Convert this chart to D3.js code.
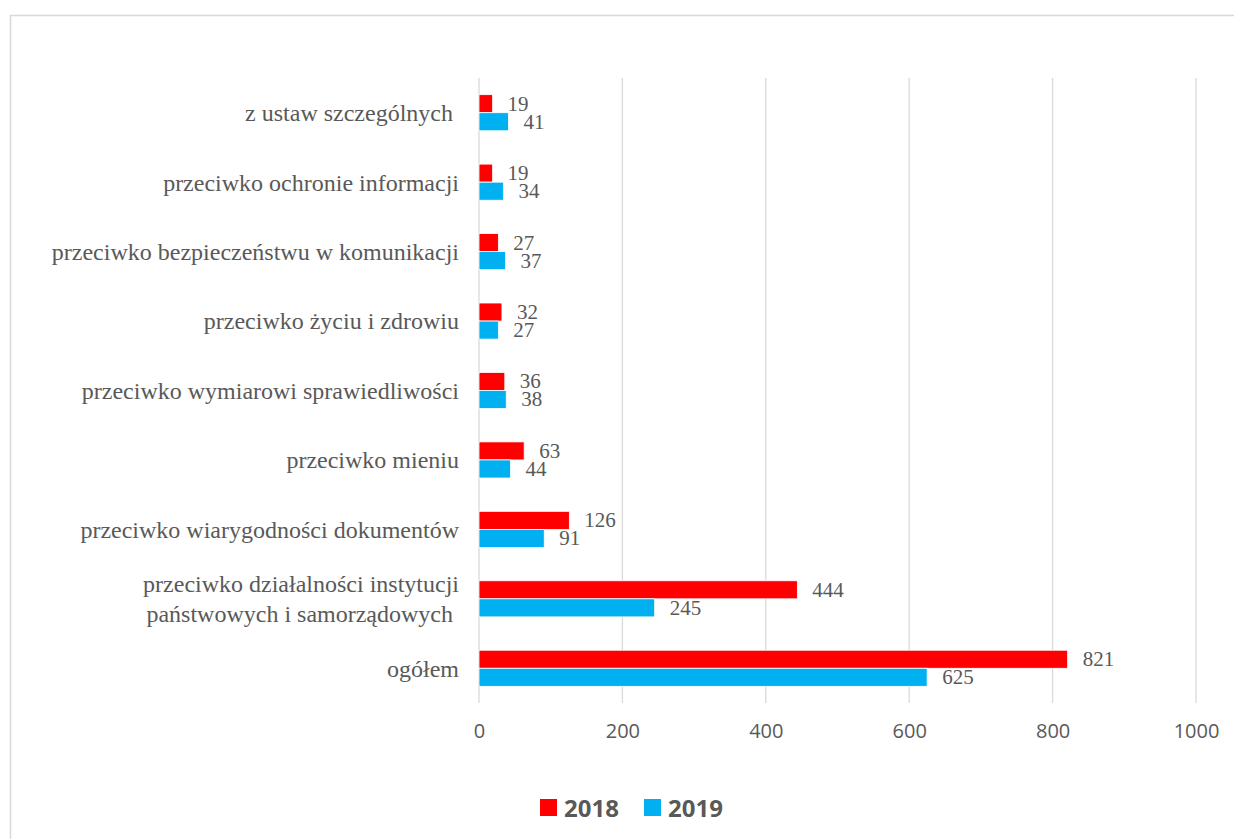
<!DOCTYPE html>
<html lang="pl">
<head>
    <meta charset="UTF-8">
    <title>Przestępstwa 2018 - 2019</title>
    <script src="https://d3js.org/d3.v7.min.js"></script>
    <style>
        body { margin: 0; background: #fff; }
        svg { display: block; }
        .cat text { font-family: "Liberation Serif", "Times New Roman", "DejaVu Serif", serif; font-size: 24px; fill: #595959; white-space: pre; }
        .x-axis text { font-family: "Open Sans", "Liberation Sans", sans-serif; font-size: 20px; fill: #595959; }
        .val { font-family: "Liberation Serif", "Times New Roman", "DejaVu Serif", serif; font-size: 21px; fill: #595959; }
        .legend text { font-family: "Open Sans", "Liberation Sans", sans-serif; font-size: 24px; font-weight: bold; fill: #595959; }
    </style>
</head>
<body>
<svg width="1234" height="839"></svg>
<script>
    // categories, top to bottom
    const categories = [
        'z ustaw szczególnych ',
        'przeciwko ochronie informacji',
        'przeciwko bezpieczeństwu w komunikacji',
        'przeciwko życiu i zdrowiu',
        'przeciwko wymiarowi sprawiedliwości',
        'przeciwko mieniu',
        'przeciwko wiarygodności dokumentów',
        'przeciwko działalności instytucji\npaństwowych i samorządowych ',
        'ogółem'
    ];
    const values2018 = [19, 19, 27, 32, 36, 63, 126, 444, 821];
    const values2019 = [41, 34, 37, 27, 38, 44, 91, 245, 625];
    const seriesNames = ['2018', '2019'];
    const colors = ['#ff0000', '#00b0f0'];
    const xTicks = [0, 200, 400, 600, 800, 1000];

    const svg = d3.select('svg');

    // outer frame
    svg.append('rect')
        .attr('x', 10.5).attr('y', 15.5)
        .attr('width', 1240).attr('height', 840)
        .attr('fill', 'none').attr('stroke', '#d9d9d9').attr('stroke-width', 1.5);

    const x = d3.scaleLinear().domain([0, 1000]).range([479, 1196]);
    const y = d3.scaleBand().domain(categories).range([78, 703]).paddingInner(0.48).paddingOuter(0.24);
    const sub = d3.scaleBand().domain(seriesNames).range([0, y.bandwidth()]);

    // gridlines
    svg.append('g')
        .selectAll('line')
        .data(xTicks)
        .join('line')
        .attr('x1', d => x(d)).attr('x2', d => x(d))
        .attr('y1', 78).attr('y2', 703)
        .attr('stroke', '#d9d9d9').attr('stroke-width', 1.3);

    // x axis labels
    const xAxis = svg.append('g')
        .attr('class', 'x-axis')
        .attr('transform', 'translate(0,703)')
        .call(d3.axisBottom(x).tickValues(xTicks).tickFormat(d3.format('d')).tickSize(0).tickPadding(21));
    xAxis.select('.domain').remove();
    xAxis.attr('font-family', null).attr('font-size', null);

    // category labels
    const cat = svg.append('g').attr('class', 'cat');
    categories.forEach(c => {
        const lines = c.split('\n');
        const cy = y(c) + y.bandwidth() / 2;
        const t = cat.append('text')
            .attr('x', 459)
            .attr('text-anchor', 'end');
        lines.forEach((l, i) => {
            t.append('tspan')
                .attr('x', 459)
                .attr('y', cy + (i - (lines.length - 1) / 2) * 30)
                .attr('dy', '0.35em')
                .text(l);
        });
    });

    // bars
    const series = [values2018, values2019];
    series.forEach((vals, si) => {
        const g = svg.append('g');
        g.selectAll('rect')
            .data(vals)
            .join('rect')
            .attr('x', x(0))
            .attr('y', (d, i) => y(categories[i]) + sub(seriesNames[si]))
            .attr('width', d => x(d) - x(0))
            .attr('height', sub.bandwidth())
            .attr('fill', colors[si])
            .attr('stroke', '#fff').attr('stroke-width', 0.8);
        g.selectAll('text')
            .data(vals)
            .join('text')
            .attr('class', 'val')
            .attr('x', d => x(d) + 15)
            .attr('y', (d, i) => y(categories[i]) + sub(seriesNames[si]) + sub.bandwidth() / 2)
            .attr('dy', '0.33em')
            .text(d => d);
    });

    // legend
    const legend = svg.append('g').attr('class', 'legend');
    const legendX = [540, 644];
    seriesNames.forEach((s, i) => {
        legend.append('rect')
            .attr('x', legendX[i]).attr('y', 799)
            .attr('width', 17).attr('height', 17)
            .attr('fill', colors[i]);
        legend.append('text')
            .attr('x', legendX[i] + 24).attr('y', 808)
            .attr('dy', '0.36em')
            .text(s);
    });
</script>
</body>
</html>
